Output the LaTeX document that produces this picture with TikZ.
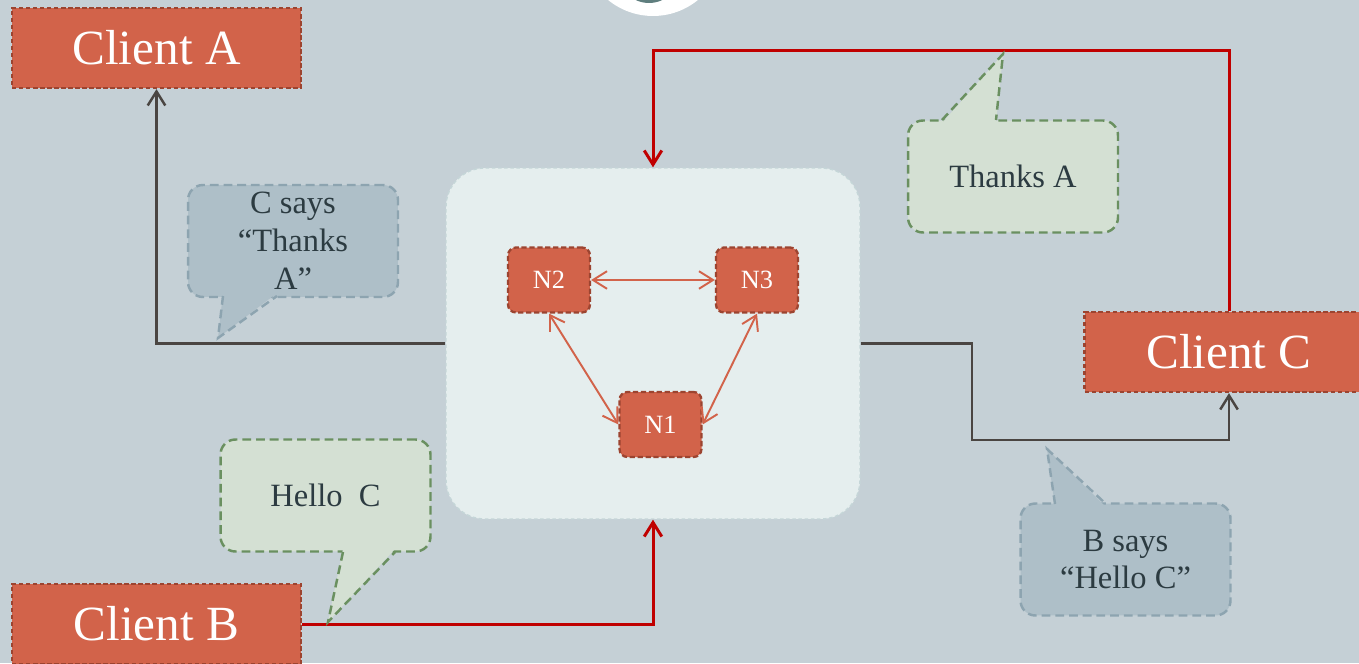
\documentclass[tikz,border=0pt]{standalone}
\usepackage{fontspec}
\setmainfont{Liberation Serif}
\usetikzlibrary{arrows.meta}

\definecolor{bgslate}{HTML}{C5D0D6}
\definecolor{brick}{HTML}{D2634A}
\definecolor{brickdark}{HTML}{9C4430}
\definecolor{mist}{HTML}{E5EEEE}
\definecolor{mistline}{HTML}{C5D6D8}
\definecolor{bubblue}{HTML}{AEBFC8}
\definecolor{bubblueline}{HTML}{8DA4B0}
\definecolor{bubgreen}{HTML}{D4E0D3}
\definecolor{bubgreenline}{HTML}{6A9060}
\definecolor{inkdark}{HTML}{2C3B41}
\definecolor{wire}{HTML}{4A4542}
\definecolor{redwire}{HTML}{C00000}
\definecolor{logoteal}{HTML}{5F7E7E}

\begin{document}
\begin{tikzpicture}[x=0.02cm, y=-0.02cm,
    client/.style={fill=brick, draw=brickdark, line width=1.3pt, dash pattern=on 2.5pt off 1.5pt, text=white, minimum width=5.78cm, minimum height=1.6cm, inner sep=0pt, font=\fontsize{28}{32}\selectfont},
    peer/.style={fill=brick, draw=brickdark, line width=1.3pt, dash pattern=on 3pt off 1.5pt, rounded corners=4.5pt, text=white, minimum width=1.64cm, minimum height=1.3cm, inner sep=0pt, font=\fontsize{15}{18}\selectfont},
    cloudbox/.style={fill=mist, draw=mistline, line width=0.8pt, dash pattern=on 2pt off 1.5pt, rounded corners=22pt, minimum width=8.28cm, minimum height=7.02cm, inner sep=0pt},
    bubble/.style={rounded corners=8.5pt, line width=1.4pt, dash pattern=on 5pt off 2.8pt, minimum width=4.2cm, minimum height=2.24cm, inner sep=0pt, align=center, text=inkdark, font=\fontsize{18.5}{21.5}\selectfont},
    bluebubble/.style={bubble, fill=bubblue, draw=bubblueline},
    greenbubble/.style={bubble, fill=bubgreen, draw=bubgreenline},
    bluetail/.style={draw=bubblueline, line width=1.4pt, dash pattern=on 5pt off 2.8pt},
    greentail/.style={draw=bubgreenline, line width=1.4pt, dash pattern=on 5pt off 2.8pt},
    wirearrow/.style={draw=wire, line width=1.4pt, -{Straight Barb[length=8pt, width=10pt]}},
    redarrow/.style={draw=redwire, line width=1.7pt, -{Straight Barb[length=8pt, width=10pt]}},
    peerarrow/.style={draw=brick, line width=1.1pt, {Straight Barb[length=8pt, width=10pt]}-{Straight Barb[length=8pt, width=10pt]}}]

    \useasboundingbox (0,0) rectangle (1359,663);
    \fill [bgslate] (0,0) rectangle (1359,663);

    % logo cut off at the top
    \fill [white] (653,-55) circle [radius=1.42cm];
    \fill [logoteal] (649,-28) circle [radius=0.62cm];

    \node[cloudbox] (cloud) at (653,343.5) {};

    \node[peer] (n2) at (549,280) {N2};
    \node[peer] (n3) at (757,280) {N3};
    \node[peer] (n1) at (660.5,424.5) {N1};

    \draw[peerarrow] (n2.east) -- (n3.west);
    \draw[peerarrow] (n2.south) -- (n1.west);
    \draw[peerarrow] (n3.south) -- (n1.east);

    \node[client] (clientA) at (156.5,48) {Client A};
    \node[client] (clientB) at (156.5,624) {Client B};
    \node[client] (clientC) at (1229,352) {Client C};

    \coordinate (bendC) at (972,440);
    \draw[wirearrow] (cloud.west) -| (clientA.south);
    \draw[wirearrow] (cloud.east) -| (bendC) -| (clientC.south);
    \draw[redarrow] (clientB.east) -| (cloud.south);
    \draw[redarrow] (clientC.north) -- ++(0,-260) -| (cloud.north);

    % speech bubbles
    \node[bluebubble] (saysC) at (293,241) {C says\\“Thanks\\A”};
    \fill [bubblue] (223,293) -- (218,338) -- (277,293) -- cycle;
    \draw[bluetail] (223,296) -- (218,338) -- (277,296);

    \node[greenbubble] (thanks) at (1013,176.5) {Thanks A};
    \fill [bubgreen] (942,123) -- (1003,54) -- (996,123) -- cycle;
    \draw[greentail] (942,120) -- (1003,54) -- (996,120);

    \node[bluebubble] (saysB) at (1125.5,559.5) {B says\\“Hello C”};
    \fill [bubblue] (1055,507) -- (1047,449) -- (1106,507) -- cycle;
    \draw[bluetail] (1055,504) -- (1047,449) -- (1106,504);

    \node[greenbubble] (hello) at (325.5,495.5) {Hello~~C};
    \fill [bubgreen] (343,549) -- (328,622) -- (395,549) -- cycle;
    \draw[greentail] (343,552) -- (328,622) -- (395,552);

\end{tikzpicture}
\end{document}
